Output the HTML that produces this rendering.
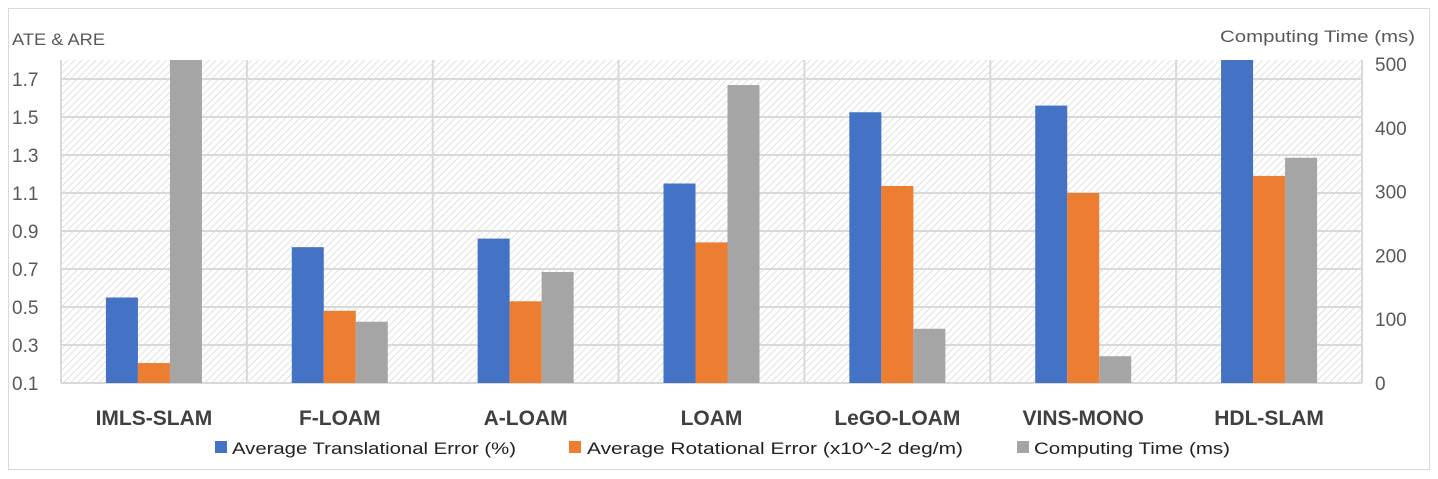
<!DOCTYPE html>
<html><head><meta charset="utf-8"><style>
html,body{margin:0;padding:0;background:#fff;}
svg{display:block;font-family:"Liberation Sans",sans-serif;}
</style></head><body>
<svg id="chart" width="1438" height="479" viewBox="0 0 1438 479">
<defs>
<pattern id="hatch" patternUnits="userSpaceOnUse" width="5" height="5" patternTransform="rotate(45)">
<rect width="5" height="5" fill="#fff"/>
<line x1="0" y1="0" x2="0" y2="5" stroke="#d9d9d9" stroke-width="1.6"/>
</pattern>
<clipPath id="plotclip"><rect x="61" y="60" width="1301" height="323"/></clipPath>
</defs>
<rect x="8.5" y="8.5" width="1421" height="461" fill="#fff" stroke="#d9d9d9"/>
<rect x="61" y="60" width="1301" height="323" fill="url(#hatch)"/>
<g id="grid"></g>
<g id="bars" clip-path="url(#plotclip)"></g>
<g id="axes"></g>
<text x="12" y="45" font-size="17" fill="#595959" textLength="93" lengthAdjust="spacingAndGlyphs">ATE &amp; ARE</text>
<text x="1220" y="42" font-size="17" fill="#595959" textLength="195" lengthAdjust="spacingAndGlyphs">Computing Time (ms)</text>
<g font-size="17" fill="#222">
<rect x="215" y="441" width="12" height="12" fill="#4472c4"/>
<text x="232" y="454" textLength="284" lengthAdjust="spacingAndGlyphs">Average Translational Error (%)</text>
<rect x="569" y="441" width="12" height="12" fill="#ed7d31"/>
<text x="587" y="454" textLength="376" lengthAdjust="spacingAndGlyphs">Average Rotational Error (x10^-2 deg/m)</text>
<rect x="1017" y="441" width="12" height="12" fill="#a5a5a5"/>
<text x="1034" y="454" textLength="196" lengthAdjust="spacingAndGlyphs">Computing Time (ms)</text>
</g>
</svg>
<script>
const categories=["IMLS-SLAM","F-LOAM","A-LOAM","LOAM","LeGO-LOAM","VINS-MONO","HDL-SLAM"];
const ateValues=[0.55,0.815,0.86,1.15,1.525,1.56,1.9];
const areValues=[0.205,0.48,0.53,0.84,1.137,1.1,1.19];
const timeValues=[520,96,174,467,85,42,353];
const leftTicks=[0.1,0.3,0.5,0.7,0.9,1.1,1.3,1.5,1.7];
const rightTicks=[0,100,200,300,400,500];
const NS="http://www.w3.org/2000/svg";
const X0=61,X1=1362,YB=383,YT=60;
const yL=v=>YB-(v-0.1)*190;
const yR=v=>YB-v*0.638;
const bandW=(X1-X0)/categories.length;
const xBand=i=>X0+i*bandW;
function mk(tag,attrs,parent){const e=document.createElementNS(NS,tag);for(const k in attrs)e.setAttribute(k,attrs[k]);parent.appendChild(e);return e;}
const grid=document.getElementById('grid'),bars=document.getElementById('bars'),axes=document.getElementById('axes');
leftTicks.forEach(t=>{
  const l=mk('line',{x1:X0,x2:X1,y1:yL(t),y2:yL(t),stroke:'#d9d9d9','stroke-width':2},grid);
  
  
  const tx=mk('text',{x:12,y:yL(t)+7,'font-size':19,fill:'#595959'},axes);
  tx.textContent=t.toFixed(1);
  
  
});
rightTicks.forEach(t=>{
  const tx=mk('text',{x:1375,y:yR(t)+7,'font-size':19,fill:'#595959'},axes);
  tx.textContent=t;
  
  
});
for(let i=0;i<=categories.length;i++){
  const l=mk('line',{x1:xBand(i),x2:xBand(i),y1:YT,y2:YB,stroke:'#d9d9d9','stroke-width':2},grid);
  
  
}
const bw=32;
categories.forEach((c,i)=>{
  const cx=xBand(i)+bandW/2;
  const series=[[ateValues[i],yL,'#4472c4','bar-ate'],[areValues[i],yL,'#ed7d31','bar-are'],[timeValues[i],yR,'#a5a5a5','bar-time']];
  series.forEach((s,j)=>{
    const top=s[1](s[0]);
    const r=mk('rect',{x:cx-48+j*bw,y:top,width:bw,height:YB-top,fill:s[2]},bars);
    
    
  });
  const tx=mk('text',{x:cx,y:425,'font-size':21,'font-weight':'bold',fill:'#404040','text-anchor':'middle'},axes);
  tx.textContent=c;
  
  
});
</script>
</body></html>
